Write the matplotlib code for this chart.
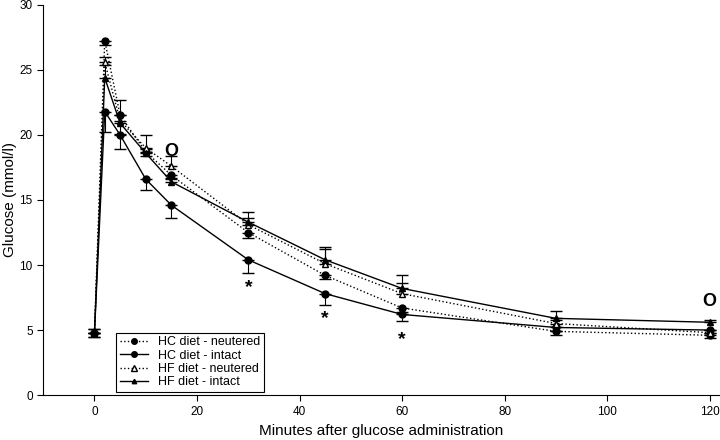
import matplotlib
matplotlib.use("Agg")
import matplotlib.pyplot as plt

plt.rcParams['font.family'] = ['Liberation Sans', 'DejaVu Sans']

minutes = [0, 2, 5, 10, 15, 30, 45, 60, 90, 120]

hc_neutered = [4.8, 27.25, 21.5, 18.7, 16.9, 12.5, 9.2, 6.7, 4.9, 4.6]
hc_neutered_err = [0.3, 0.35, 1.4, 0.3, 0.3, 0.4, 0.3, 0.3, 0.3, 0.2]
hc_intact = [4.8, 21.8, 20.0, 16.6, 14.6, 10.4, 7.8, 6.2, 5.2, 5.0]
hc_intact_err = [0.3, 1.6, 1.1, 0.8, 1.0, 1.0, 0.9, 0.5, 0.3, 0.2]
hf_neutered = [4.8, 25.6, 21.1, 19.0, 17.6, 13.1, 10.1, 7.8, 5.5, 4.8]
hf_neutered_err = [0.3, 0.4, 0.4, 1.0, 0.8, 0.5, 1.1, 0.8, 0.3, 0.2]
hf_intact = [4.8, 24.4, 20.9, 18.6, 16.4, 13.3, 10.4, 8.2, 5.9, 5.6]
hf_intact_err = [0.3, 1.0, 1.8, 0.3, 0.3, 0.8, 1.0, 1.0, 0.6, 0.2]

labels = ["HC diet - neutered", "HC diet - intact", "HF diet - neutered", "HF diet - intact"]

# significance marks
star_x = [30, 45, 60]
star_y = [8.3, 5.9, 4.3]
circ_x = [15, 120]
circ_y = [18.7, 7.2]

fig = plt.figure(figsize=(7.2, 4.4), dpi=100)
ax = fig.add_axes([0.06, 0.102, 0.94, 0.887])

zeros = [0] * len(minutes)
# errors shown one-sided: HC downward, HF upward
c1 = ax.errorbar(minutes, hc_neutered, yerr=[hc_neutered_err, zeros], color='k',
                 ls=':', lw=1, marker='o', ms=5, mfc='k', capsize=4, elinewidth=0.8)
c2 = ax.errorbar(minutes, hc_intact, yerr=[hc_intact_err, zeros], color='k',
                 ls='-', lw=1, marker='o', ms=5, mfc='k', capsize=4, elinewidth=0.8)
c3 = ax.errorbar(minutes, hf_neutered, yerr=[zeros, hf_neutered_err], color='k',
                 ls=':', lw=1, marker='^', ms=5, mfc='white', capsize=4, elinewidth=0.8)
c4 = ax.errorbar(minutes, hf_intact, yerr=[zeros, hf_intact_err], color='k',
                 ls='-', lw=1, marker='^', ms=4, mfc='k', capsize=4, elinewidth=0.8)

for x, y in zip(star_x, star_y):
    ax.text(x, y, '*', ha='center', va='center', fontsize=14, fontweight='bold')
for x, y in zip(circ_x, circ_y):
    ax.text(x, y, 'O', ha='center', va='center', fontsize=13, fontweight='bold')

ax.set_xlim(-10, 122)
ax.set_ylim(0, 30)
ax.set_xticks([0, 20, 40, 60, 80, 100, 120])
ax.set_yticks([0, 5, 10, 15, 20, 25, 30])
ax.tick_params(direction='out', labelsize=8.5, length=4)
ax.spines['top'].set_visible(False)
ax.spines['right'].set_visible(False)
ax.set_xlabel("Minutes after glucose administration", fontsize=11, labelpad=5)
ax.set_ylabel("Glucose (mmol/l)", fontsize=11, labelpad=2)

handles = [c1[0], c2[0], c3[0], c4[0]]
leg = ax.legend(handles, labels, loc='lower left', bbox_to_anchor=(0.108, 0.008), borderaxespad=0,
                fontsize=9, fancybox=False, edgecolor='k', framealpha=1,
                handlelength=2.2, labelspacing=0.1, borderpad=0.3, markerscale=0.8)
leg.get_frame().set_linewidth(0.8)

fig.savefig("out.png", dpi=100)
